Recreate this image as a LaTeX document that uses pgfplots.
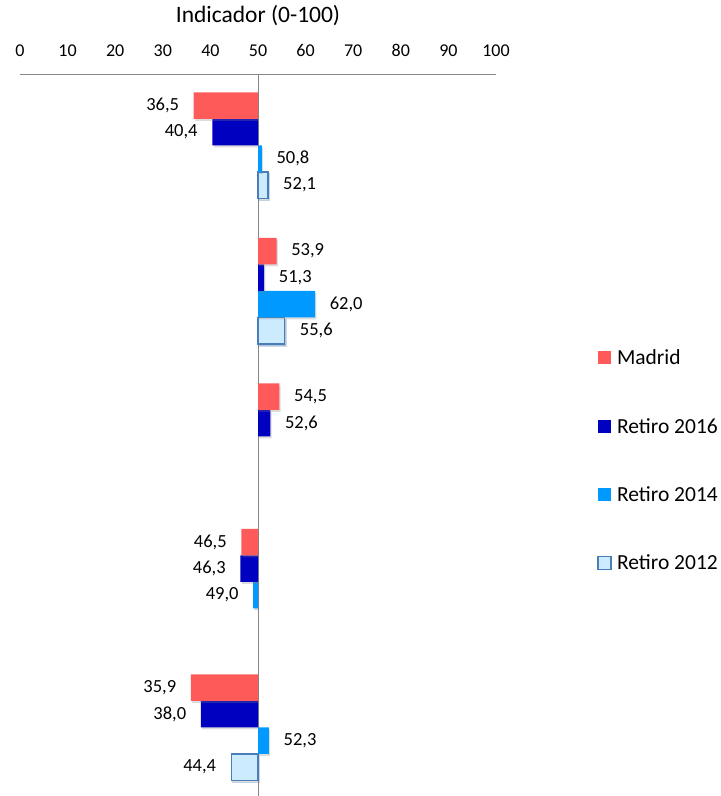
\documentclass[border=0pt]{standalone}
\usepackage{fontspec}
\setmainfont{Carlito}
\usepackage{pgfplots}
\pgfplotsset{compat=1.18}
\usetikzlibrary{shadows}

\definecolor{cMad}{RGB}{255,90,90}
\definecolor{c16}{RGB}{0,0,192}
\definecolor{c14}{RGB}{0,153,255}
\definecolor{c12}{RGB}{205,235,255}
\definecolor{c12edge}{RGB}{74,126,187}
\definecolor{axgray}{RGB}{134,134,134}

\makeatletter
\tikzset{no preactions/.code={\let\tikz@preactions\pgfutil@empty}}
\makeatother

\pgfplotsset{
  sqlegend/.style={legend image code/.code={
      \path[no preactions, #1] (0bp,-6.5bp) rectangle (13bp,6.5bp);}},
  barshadow/.style={drop shadow={shadow xshift=1.2bp, shadow yshift=-2bp, opacity=0.28}},
}

\begin{document}
\begin{tikzpicture}
\begin{axis}[
    name=ax,
    xbar=0pt, bar width=0.182,
    scale only axis, width=476bp, height=722bp,
    xmin=-50, xmax=50, ymin=0.529, ymax=5.49,
    x filter/.expression={x-50},
    axis x line*=top, axis y line=none,
    axis line style={axgray, line width=0.8bp},
    xtick={-50,-40,...,50},
    xticklabels={0,10,20,30,40,50,60,70,80,90,100},
    major tick length=0pt,
    xticklabel style={font=\fontsize{18bp}{20bp}\selectfont, anchor=base, yshift=17.3bp},
    ytick=\empty,
    extra x ticks={0}, extra x tick labels={},
    extra x tick style={grid=major, major grid style={axgray, line width=0.8bp}},
    title={Indicador (0-100)},
    title style={font=\fontsize{23.5bp}{26bp}\selectfont, at={(0.5,1)}, anchor=base, yshift=45.7bp},
    point meta=x,
    visualization depends on={rawx \as \rawval},
    nodes near coords={\pgfmathprintnumber[fixed,fixed zerofill,precision=1,use comma,assume math mode=true]{\rawval}},
    nodes near coords align={horizontal},
    nodes near coords style={font=\fontsize{18.5bp}{20bp}\selectfont, inner xsep=14.5bp, inner ysep=0pt, text=black},
    legend style={at={(1.2122,0.4647)}, anchor=west, draw=none, fill=none,
        inner sep=0pt, outer sep=0pt, row sep=48bp, column sep=3.5bp,
        font=\fontsize{21.5bp}{24bp}\selectfont},
    legend cell align=left,
    reverse legend,
  ]
  % plotted bottom to top inside each group
  \addplot[fill=c12, draw=c12edge, line width=1.5bp, barshadow,
    sqlegend={fill=c12, draw=c12edge, line width=1.5bp}] coordinates {
    (52.1,5) (55.6,4) (44.4,1) };
  \addplot[fill=c14, draw=none, barshadow, sqlegend={fill=c14}] coordinates {
    (50.8,5) (62.0,4) (49.0,2) (52.3,1) };
  \addplot[fill=c16, draw=none, barshadow, sqlegend={fill=c16}] coordinates {
    (40.4,5) (51.3,4) (52.6,3) (46.3,2) (38.0,1) };
  \addplot[fill=cMad, draw=none, barshadow, sqlegend={fill=cMad}] coordinates {
    (36.5,5) (53.9,4) (54.5,3) (46.5,2) (35.9,1) };
  \legend{Retiro 2012, Retiro 2014, Retiro 2016, Madrid}
\end{axis}
\pgfresetboundingbox
\path[use as bounding box] ([shift={(-20bp,74bp)}]ax.north west)
  rectangle ([shift={(701bp,-722bp)}]ax.north west);
\end{tikzpicture}
\end{document}
